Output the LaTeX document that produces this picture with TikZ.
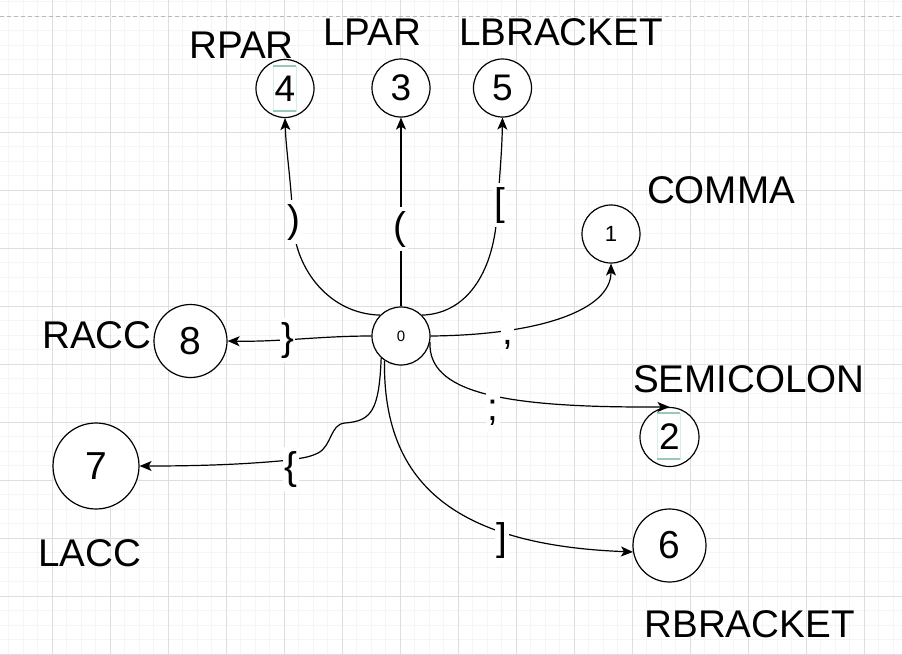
\documentclass[tikz,border=0pt]{standalone}
\usepackage{fontspec}
\setmainfont{Liberation Sans}
\usetikzlibrary{arrows.meta}
\definecolor{majgrid}{RGB}{222,222,222}
\definecolor{mingrid}{RGB}{245,245,245}
\definecolor{selcol}{RGB}{150,200,190}
\newcommand\lblfont{\fontsize{38.6}{44}\selectfont}
\newcommand\digfont{\fontsize{37}{42}\selectfont}
\newcommand\digbigfont{\fontsize{39}{44}\selectfont}
\begin{document}
\begin{tikzpicture}[x=1pt,y=-1pt,
  statebox/.style={circle,draw=black,line width=1.2pt,fill=white,inner sep=0pt,font=\digfont},
  tname/.style={font=\lblfont,anchor=base,inner sep=0pt},
  elabel/.style={font=\lblfont,fill=white,anchor=base,inner sep=1.5pt,text height=31pt,text depth=10pt},
  conn/.style={line width=1.2pt,-{Stealth[length=12pt,width=10pt,inset=3pt]}},
  minorline/.style={mingrid,line width=1pt},
  majorline/.style={majgrid,line width=1pt}]
\useasboundingbox (0,0) rectangle (902,654);
\fill[white] (0,0) rectangle (902,654);
% grid
\foreach \i in {0,...,62} {\draw[minorline] ({8.5+14.5*\i},0) -- ({8.5+14.5*\i},654);}
\foreach \j in {0,...,45} {\draw[minorline] (0,{1.5+14.5*\j}) -- (902,{1.5+14.5*\j});}
\foreach \i in {0,...,14} {\draw[majorline] ({52+58*\i},0) -- ({52+58*\i},654);}
\foreach \j in {1,...,11} {\draw[majorline] (0,{16+58*\j}) -- (902,{16+58*\j});}
\draw[gray!55,line width=1pt,dash pattern=on 4pt off 3pt] (0,16) -- (902,16);

% states
\node[statebox,minimum size=58pt,font=\fontsize{15}{18}\selectfont] (n0) at (401,336) {0};
\node[statebox,minimum size=58pt,font=\fontsize{22}{26}\selectfont] (n1) at (611,234) {1};
\node[statebox,minimum size=59pt] (n2) at (669.5,437) {2};
\node[statebox,minimum size=58pt] (n3) at (401,88) {3};
\node[statebox,minimum size=58pt] (n4) at (285,88.5) {4};
\node[statebox,minimum size=58pt] (n5) at (502.5,88) {5};
\node[statebox,minimum size=73pt,font=\digbigfont] (n6) at (669.5,545.5) {6};
\node[statebox,minimum size=86pt,font=\digbigfont] (n7) at (96,466) {7};
\node[statebox,minimum size=73pt,font=\digbigfont] (n8) at (190.5,341) {8};

% selection marks
\draw[selcol!35,line width=0.5pt] (273,66) rectangle (296,111);
\draw[selcol,line width=2.5pt] (273,66) -- (296,66) (273,111) -- (296,111);
\draw[selcol!35,line width=0.5pt] (657,413) rectangle (680,459);
\draw[selcol,line width=2.5pt] (657,413) -- (680,413) (657,459) -- (680,459);

% token names
\node[tname] (tRPAR) at (241.5,58) {RPAR};
\node[tname] (tLPAR) at (372.5,45) {LPAR};
\node[tname] (tLBR) at (561,45) {LBRACKET};
\node[tname] (tCOMMA) at (721,203) {COMMA};
\node[tname] (tSEMI) at (749,392) {SEMICOLON};
\node[tname] (tRBR) at (749.5,637) {RBRACKET};
\node[tname] (tRACC) at (97,348) {RACC};
\node[tname] (tLACC) at (89.5,566) {LACC};

% transitions
\draw[conn] (n0.135) .. controls (330,314) and (295,270) .. (293,222) .. controls (291,180) and (286,150) .. (n4.south);
\draw[conn] (n0.north) -- (n3.south);
\draw[conn] (n0.45) .. controls (465,314) and (493,275) .. (497,215) .. controls (500,170) and (502,150) .. (n5.south);
\draw[conn] (n0.east) .. controls (540,335) and (611,310) .. (n1.south);
\draw[conn] (n0.-12) .. controls (428,392) and (500,408) .. (n2.north);
\draw[conn] (n0.-124) .. controls (383,480) and (450,545) .. (n6.190);
\draw[conn] (n0.west) .. controls (320,336) and (280,342) .. (n8.east);
\draw[conn] (n0.-132) .. controls (379,410) and (372,421) .. (345,423) .. controls (330,424) and (332,446) .. (318,453) .. controls (308,458) and (300,458) .. (290,460) .. controls (240,465) and (190,466) .. (n7.east);

% transition labels
\node[elabel] (lrp) at (294,232) {)};
\node[elabel] (llp) at (400,239) {(};
\node[elabel] (llb) at (499.5,215) {[};
\node[elabel] (lcm) at (507.5,344) {,};
\node[elabel] (lsc) at (493,420) {;};
\node[elabel] (lrc) at (287.5,350) {\}};
\node[elabel] (llc) at (291,479) {\{};
\node[elabel] (lrb) at (502,550) {]};
\end{tikzpicture}
\end{document}
